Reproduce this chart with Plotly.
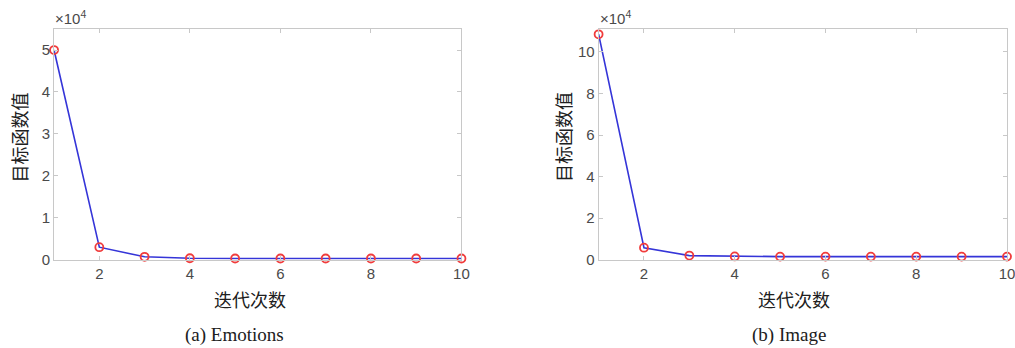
import plotly.graph_objects as go

iterations = [1, 2, 3, 4, 5, 6, 7, 8, 9, 10]
emotions_obj = [5.0, 0.30, 0.07, 0.035, 0.03, 0.03, 0.03, 0.03, 0.03, 0.03]   # x10^4
image_obj = [10.85, 0.58, 0.20, 0.16, 0.15, 0.15, 0.15, 0.15, 0.15, 0.15]     # x10^4
x_ticks = [2, 4, 6, 8, 10]
y_ticks_a = [0, 1, 2, 3, 4, 5]
y_ticks_b = [0, 2, 4, 6, 8, 10]
y_label = "目标函数值"
x_label = "迭代次数"
captions = ["(a) Emotions", "(b) Image"]

W, H = 1015, 348
def px(x): return x / W
def py(y): return 1 - y / H

fig = go.Figure()
line_style = dict(color="#3535d8", width=1.6)
marker_style = dict(symbol="circle-open", size=8, color="#f03c3c", line=dict(width=1.8, color="#f03c3c"))

fig.add_trace(go.Scatter(x=iterations, y=emotions_obj, mode="lines+markers", line=line_style,
                         marker=marker_style, cliponaxis=False, xaxis="x", yaxis="y", showlegend=False))
fig.add_trace(go.Scatter(x=iterations, y=image_obj, mode="lines+markers", line=line_style,
                         marker=marker_style, cliponaxis=False, xaxis="x2", yaxis="y2", showlegend=False))

tickfont = dict(family="Arial, Liberation Sans, sans-serif", size=15, color="#4a4a4a")
axis_common = dict(showgrid=False, zeroline=False, showline=True, linecolor="#c8c8c8", linewidth=1,
                   mirror="ticks", ticks="inside", ticklen=4, tickcolor="#c8c8c8", tickfont=tickfont)

fig.update_layout(
    width=1024, height=357, margin=dict(l=0, r=0, t=0, b=0),
    paper_bgcolor="white", plot_bgcolor="white",
    xaxis=dict(domain=[px(54), px(461)], range=[1, 10], tickvals=x_ticks, anchor="y", **axis_common),
    yaxis=dict(domain=[py(259), py(29)], range=[0, 5.5], tickvals=y_ticks_a, anchor="x", **axis_common),
    xaxis2=dict(domain=[px(598), px(1006)], range=[1, 10], tickvals=x_ticks, anchor="y2", **axis_common),
    yaxis2=dict(domain=[py(259), py(29)], range=[0, 11.1], tickvals=y_ticks_b, anchor="x2", **axis_common),
)

cjk = dict(family="Noto Sans CJK SC", size=18, color="#202020")
serif = dict(family="Liberation Serif, Times New Roman, serif", size=19, color="#202020")
ann = []
for yl, xc, capx, cap in [(19, 250, 234, captions[0]), (563, 793, 788, captions[1])]:
    ann.append(dict(x=px(yl), y=py(137), xref="paper", yref="paper", text=y_label, textangle=-90,
                    showarrow=False, font=cjk, xanchor="center", yanchor="middle"))
    ann.append(dict(x=px(xc), y=py(298), xref="paper", yref="paper", text=x_label,
                    showarrow=False, font=cjk, xanchor="center", yanchor="middle"))
    ann.append(dict(x=px(capx), y=py(334), xref="paper", yref="paper",
                    text=cap, showarrow=False, font=serif, xanchor="center", yanchor="middle"))
for xs in [53, 597]:
    ann.append(dict(x=px(xs), y=py(17), xref="paper", yref="paper", text="×10<sup>4</sup>",
                    showarrow=False, font=dict(family="Arial, Liberation Sans, sans-serif", size=15, color="#4a4a4a"),
                    xanchor="left", yanchor="middle"))
fig.update_layout(annotations=ann)

fig.write_html(
    "out.html",
    config={"displayModeBar": False},
    post_script="document.documentElement.style.margin='0';document.body.style.margin='0';"
                "document.body.style.overflow='hidden';",
)
